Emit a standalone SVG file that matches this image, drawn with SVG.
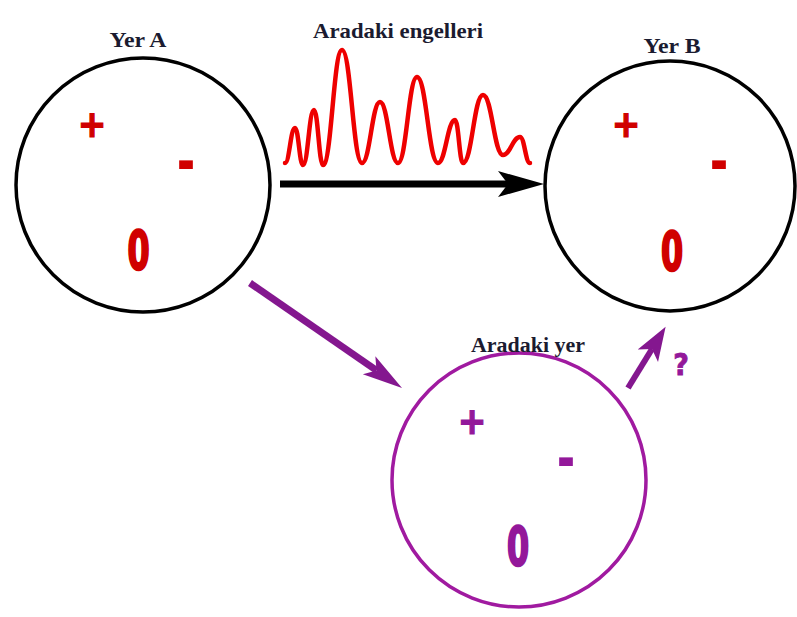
<svg xmlns="http://www.w3.org/2000/svg" width="797" height="617" viewBox="0 0 797 617">
<style>
.label{font-family:"Liberation Serif","Times New Roman",serif;font-weight:bold;fill:#1b1b30;text-anchor:middle}
.sign{font-family:"DejaVu Sans Condensed","DejaVu Sans",sans-serif;font-weight:bold;text-anchor:middle}
.red{fill:#d00000;stroke:#d00000}
.pur{fill:#93189a;stroke:#93189a}
.plus{stroke-width:1.2}
.zero{stroke-width:2.2}
.ring{fill:none;stroke-width:3.5}
</style>
<defs>
<marker id="headBlack" markerUnits="userSpaceOnUse" markerWidth="48" markerHeight="28" refX="10" refY="13" orient="auto">
<path d="M0,0 L46,13 L0,26 L10,13 Z" fill="#000"/>
</marker>
<marker id="headPurple" markerUnits="userSpaceOnUse" markerWidth="42" markerHeight="24" refX="9" refY="11" orient="auto">
<path d="M0,0 L40,11 L0,22 L9,11 Z" fill="#84178f"/>
</marker>
<marker id="headPurpleSmall" markerUnits="userSpaceOnUse" markerWidth="36" markerHeight="26" refX="8" refY="12" orient="auto">
<path d="M0,0 L34,12 L0,24 L8,12 Z" fill="#84178f"/>
</marker>
</defs>
<rect width="797" height="617" fill="#fff"/>

<g id="obstacles">
<text class="label" x="398" y="38" font-size="21" textLength="170" lengthAdjust="spacingAndGlyphs">Aradaki engelleri</text>
<path d="M285,163 C289.5,163 290.5,128 295,128 C298.6,128 299.4,165 303,165 C308,165 309,110 314,110 C318,110 319,165 323,165 C331.5,165 333.5,50 342,50 C351,50 353,163 362,163 C370,163 372,102 380,102 C388,102 390,163 398,163 C406.5,163 408.5,77 417,77 C426.5,77 428.5,163 438,163 C445.5,163 447.5,120 455,120 C458.6,120 459.4,163 463,163 C472,163 474,95 483,95 C492,95 494,155 503,155 C510.5,155 512.5,137 520,137 C524.5,137 525.5,163 530,163" fill="none" stroke="#ee0000" stroke-width="4.5" stroke-linejoin="round" stroke-linecap="round"/>
</g>

<g id="yerA" transform="translate(143,185)">
<circle class="ring" r="127" stroke="#000"/>
<text class="label" x="-5" y="-138" font-size="21" textLength="57" lengthAdjust="spacingAndGlyphs">Yer A</text>
<text class="sign red plus" x="-51" y="-48" font-size="38">+</text>
<text class="sign red" transform="translate(43,-14) scale(1.55,1.9)" x="0" y="6" font-size="32" stroke-width="0">-</text>
<text class="sign red zero" transform="translate(-4.5,84) scale(0.68,1.04)" x="0" y="0" font-size="52">0</text>
</g>

<g id="yerB" transform="translate(670,186)">
<circle class="ring" r="125" stroke="#000"/>
<text class="label" x="2" y="-133" font-size="21" textLength="57" lengthAdjust="spacingAndGlyphs">Yer B</text>
<text class="sign red plus" x="-44" y="-49" font-size="38">+</text>
<text class="sign red" transform="translate(49,-15) scale(1.55,1.9)" x="0" y="6" font-size="32" stroke-width="0">-</text>
<text class="sign red zero" transform="translate(2,84) scale(0.68,1.04)" x="0" y="0" font-size="52">0</text>
</g>

<g id="aradakiYer" transform="translate(519,480)">
<circle class="ring" r="127" stroke="#a01aa0"/>
<text class="label" x="9" y="-128" font-size="20" textLength="114" lengthAdjust="spacingAndGlyphs">Aradaki yer</text>
<text class="sign pur plus" x="-47" y="-46" font-size="38">+</text>
<text class="sign pur" transform="translate(47,-12) scale(1.55,1.9)" x="0" y="6" font-size="32" stroke-width="0">-</text>
<text class="sign pur zero" transform="translate(-1,85) scale(0.68,1.04)" x="0" y="0" font-size="52">0</text>
</g>

<g id="connectors">
<line x1="280" y1="184" x2="508" y2="184" stroke="#000" stroke-width="7" marker-end="url(#headBlack)"/>
<line x1="250" y1="283" x2="376.5" y2="370.4" stroke="#84178f" stroke-width="7" marker-end="url(#headPurple)"/>
<line x1="628" y1="388" x2="652" y2="349" stroke="#84178f" stroke-width="6" marker-end="url(#headPurpleSmall)"/>
<text class="sign pur" x="681" y="375" font-size="30" font-family="Liberation Sans" stroke-width="0.8">?</text>
</g>
</svg>
